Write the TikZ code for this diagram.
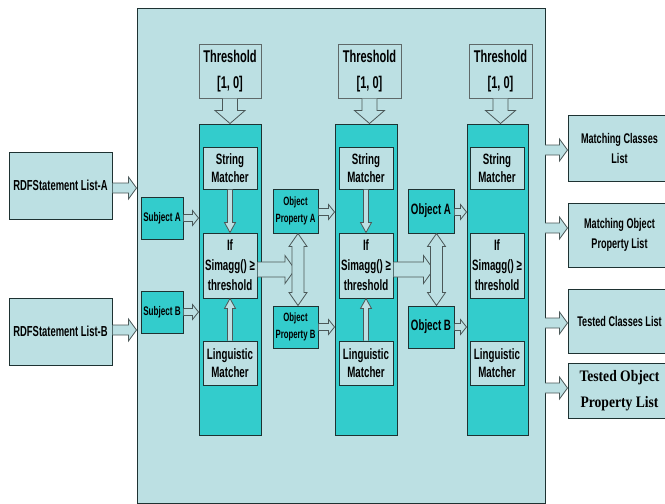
\documentclass[tikz,border=0pt]{standalone}
\usepackage{fontspec}
\setmainfont{Liberation Sans}[FakeStretch=0.65]
\newfontfamily\serifb{Liberation Serif}[FakeStretch=0.85]
\usetikzlibrary{calc}
\definecolor{bgc}{RGB}{188,224,227}
\definecolor{tealc}{RGB}{51,204,204}
\definecolor{edgec}{RGB}{30,50,50}
\definecolor{arrc}{RGB}{75,88,88}
\definecolor{thrc}{RGB}{95,105,105}
\tikzset{
  box/.style={draw=edgec, line width=1pt, fill=bgc, inner sep=0pt, align=center},
  tbox/.style={box, fill=tealc},
  thrbox/.style={box, draw=thrc, font=\bfseries\fontsize{17}{26}\selectfont},
  fbig/.style={font=\bfseries\fontsize{14.5}{19}\selectfont},
  fmid/.style={font=\bfseries\fontsize{15}{18.5}\selectfont},
  fif/.style={font=\bfseries\fontsize{15}{20}\selectfont},
  fsmall/.style={font=\bfseries\fontsize{12.5}{16}\selectfont},
  fop/.style={font=\bfseries\fontsize{12}{17}\selectfont},
  fout/.style={font=\bfseries\fontsize{14}{20}\selectfont},
  arrfill/.style={fill=bgc},
  arrline/.style={draw=arrc, line width=0.8pt, line join=miter},
}
% block arrow: #1 start, #2 end, #3 shaft half width, #4 head half width, #5 head length
\newcommand\barrow[5]{%
  \path #1 coordinate (bs) #2 coordinate (be);
  \path ($(be)!#5!(bs)$) coordinate (bh);
  \fill[arrfill] ($(bs)!#3!90:(be)$) -- ($(bh)!#3!90:(be)$) -- ($(bh)!#4!90:(be)$) -- (be)
     -- ($(bh)!#4!-90:(be)$) -- ($(bh)!#3!-90:(be)$) -- ($(bs)!#3!-90:(be)$) -- cycle;
  \draw[arrline] ($(bs)!#3!90:(be)$) -- ($(bh)!#3!90:(be)$) -- ($(bh)!#4!90:(be)$) -- (be)
     -- ($(bh)!#4!-90:(be)$) -- ($(bh)!#3!-90:(be)$) -- ($(bs)!#3!-90:(be)$);
}
% double block arrow
\newcommand\dbarrow[5]{%
  \path #1 coordinate (ds) #2 coordinate (de);
  \path ($(ds)!#5!(de)$) coordinate (dh1) ($(de)!#5!(ds)$) coordinate (dh2);
  \filldraw[arrfill, arrline] (ds) -- ($(dh1)!#4!90:(de)$) -- ($(dh1)!#3!90:(de)$) -- ($(dh2)!#3!90:(de)$)
     -- ($(dh2)!#4!90:(de)$) -- (de) -- ($(dh2)!#4!-90:(de)$) -- ($(dh2)!#3!-90:(de)$)
     -- ($(dh1)!#3!-90:(de)$) -- ($(dh1)!#4!-90:(de)$) -- cycle;
}
\begin{document}
\begin{tikzpicture}[x=1pt, y=-1pt]
\useasboundingbox (0,0) rectangle (665,504);
% main frame
\node[box, minimum width=408pt, minimum height=495pt] (big) at (341,255.5) {};
% input lists
\node[box, fbig, minimum width=103pt, minimum height=67pt] (rdfA) at (60.5,185.5) {RDFStatement List-A};
\node[box, fbig, minimum width=103pt, minimum height=67pt] (rdfB) at (60.5,331.5) {RDFStatement List-B};
% subjects
\node[tbox, fsmall, minimum width=42pt, minimum height=42pt] (subA) at (162,218) {Subject A};
\node[tbox, fsmall, minimum width=42pt, minimum height=42pt] (subB) at (162,312) {Subject B};
% columns
\node[tbox, minimum width=62pt, minimum height=311pt] (col1) at (230,279.5) {};
\node[tbox, minimum width=62pt, minimum height=311pt] (col2) at (366,279.5) {};
\node[tbox, minimum width=61pt, minimum height=311pt] (col3) at (497.5,279.5) {};
% thresholds
\node[thrbox, minimum width=62pt, minimum height=54pt] (thr1) at (230,71) {Threshold\\{}[1, 0]};
\node[thrbox, minimum width=63pt, minimum height=54pt] (thr2) at (369.5,71) {Threshold\\{}[1, 0]};
\node[thrbox, minimum width=63pt, minimum height=54pt] (thr3) at (500.5,71) {Threshold\\{}[1, 0]};
% matchers column 1
\node[box, fmid, minimum width=54pt, minimum height=42pt] (sm1) at (230,168) {String\\Matcher};
\node[box, fif, minimum width=54pt, minimum height=65pt] (if1) at (230,265.5) {If\\Simagg() ≥\\threshold};
\node[box, fmid, minimum width=54pt, minimum height=44pt] (lm1) at (230,363) {Linguistic\\Matcher};
% column 2
\node[box, fmid, minimum width=54pt, minimum height=42pt] (sm2) at (366,168) {String\\Matcher};
\node[box, fif, minimum width=54pt, minimum height=65pt] (if2) at (366,265.5) {If\\Simagg() ≥\\threshold};
\node[box, fmid, minimum width=54pt, minimum height=44pt] (lm2) at (366,363) {Linguistic\\Matcher};
% column 3
\node[box, fmid, minimum width=54pt, minimum height=42pt] (sm3) at (497,168) {String\\Matcher};
\node[box, fif, minimum width=54pt, minimum height=65pt] (if3) at (497,265.5) {If\\Simagg() ≥\\threshold};
\node[box, fmid, minimum width=54pt, minimum height=44pt] (lm3) at (497,363) {Linguistic\\Matcher};
% object properties
\node[tbox, fop, minimum width=45pt, minimum height=44pt] (opA) at (295.5,211) {Object\\Property A};
\node[tbox, fop, minimum width=45pt, minimum height=42pt] (opB) at (295.5,327) {Object\\Property B};
% objects
\node[tbox, fmid, minimum width=46pt, minimum height=44pt] (objA) at (431,211) {Object A};
\node[tbox, fmid, minimum width=46pt, minimum height=42pt] (objB) at (431,327) {Object B};
% outputs
\node[box, fout, minimum width=103pt, minimum height=66pt] (out1) at (619.5,148) {Matching Classes\\List};
\node[box, fout, minimum width=103pt, minimum height=64pt] (out2) at (619.5,235) {Matching Object\\Property List};
\node[box, fout, minimum width=103pt, minimum height=64pt] (out3) at (619.5,321) {Tested Classes List};
\node[box, font=\serifb\bfseries\fontsize{16}{26}\selectfont, minimum width=103pt, minimum height=55pt] (out4) at (619.5,390.5) {Tested Object\\Property List};

% arrows: inputs
\barrow{($(rdfA.east)+(0,2.5)$)}{($(big.west |- rdfA.east)+(0,2.5)$)}{5pt}{11pt}{8pt}
\barrow{($(rdfB.east)+(0,-1.5)$)}{($(big.west |- rdfB.east)+(0,-1.5)$)}{5pt}{11pt}{8pt}
\barrow{(subA.east)}{(col1.west |- subA.east)}{3.5pt}{7.5pt}{6pt}
\barrow{(subB.east)}{(col1.west |- subB.east)}{3.5pt}{7.5pt}{6pt}
\barrow{($(opA.east)+(0,1)$)}{($(col2.west |- opA.east)+(0,1)$)}{3.5pt}{7.5pt}{6pt}
\barrow{(opB.east)}{(col2.west |- opB.east)}{3.5pt}{7.5pt}{6pt}
\barrow{($(objA.east)+(0,1)$)}{($(col3.west |- objA.east)+(0,1)$)}{3.5pt}{7.5pt}{6pt}
\barrow{(objB.east)}{(col3.west |- objB.east)}{3.5pt}{7.5pt}{6pt}
% thresholds
\barrow{(thr1.south)}{(thr1.south |- col1.north)}{7.5pt}{15pt}{13pt}
\barrow{(thr2.south)}{(thr2.south |- col2.north)}{7.5pt}{15pt}{13pt}
\barrow{(thr3.south)}{(thr3.south |- col3.north)}{7.5pt}{15pt}{13pt}
% inner matcher arrows
\barrow{(sm1.south)}{(if1.north)}{2.5pt}{5.5pt}{10pt}
\barrow{(lm1.north)}{(if1.south)}{2.5pt}{5.5pt}{10pt}
\barrow{(sm2.south)}{(if2.north)}{2.5pt}{5.5pt}{10pt}
\barrow{(lm2.north)}{(if2.south)}{2.5pt}{5.5pt}{10pt}
% if -> property pairs
\coordinate (m1) at ($(opA.south)!0.5!(opB.north)+(2.5,0)$);
\coordinate (m2) at ($(objA.south)!0.5!(objB.north)+(5.5,0)$);
\barrow{(if1.east |- m1)}{($(m1)+(-3,0)$)}{7.5pt}{14pt}{10pt}
\barrow{(if2.east |- m2)}{($(m2)+(-3,0)$)}{7.5pt}{14pt}{10pt}
\dbarrow{($(opA.south)+(2.5,0)$)}{($(opB.north)+(2.5,0)$)}{6pt}{9pt}{13pt}
\dbarrow{($(objA.south)+(5.5,0)$)}{($(objB.north)+(5.5,0)$)}{6pt}{9pt}{13pt}
% outputs
\barrow{($(big.east |- out1.west)+(-0.5,2)$)}{($(out1.west)+(0,2)$)}{5pt}{11pt}{8pt}
\barrow{($(big.east |- out2.west)+(-0.5,-7)$)}{($(out2.west)+(0,-7)$)}{5pt}{11pt}{8pt}
\barrow{($(big.east |- out3.west)+(-0.5,2)$)}{($(out3.west)+(0,2)$)}{5pt}{11pt}{8pt}
\barrow{($(big.east |- out4.west)+(-0.5,-2.5)$)}{($(out4.west)+(0,-2.5)$)}{5pt}{11pt}{8pt}
\end{tikzpicture}
\end{document}
